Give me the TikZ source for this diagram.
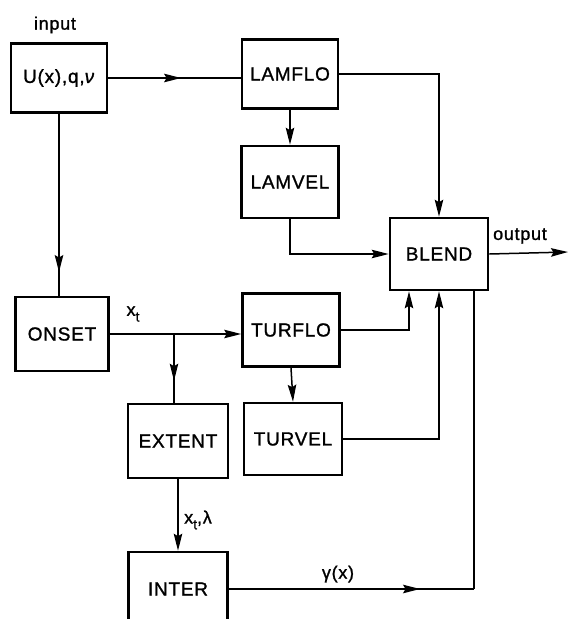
\documentclass[tikz,border=0pt]{standalone}
\usepackage{fontspec}
\setmainfont{Liberation Sans}[LetterSpace=4,FakeBold=1.2]
\usetikzlibrary{arrows.meta,decorations.markings,calc}
\tikzset{
  blk/.style={draw, line width=2.6pt, inner sep=0pt, minimum width=97pt, minimum height=72pt, font=\fontsize{19}{21}\selectfont},
  wire/.style={line width=1.5pt},
  endarr/.style={wire, -{Stealth[length=17pt,width=8.5pt,inset=2.5pt]}},
  midarr/.style={wire, postaction=decorate, decoration={markings, mark=at position #1 with {\arrow{Stealth[length=17pt,width=8.5pt,inset=2.5pt]}}}},
  lbl/.style={font=\fontsize{18}{20}\selectfont, inner sep=0pt}
}
\newcommand{\subt}{\raisebox{-0.6ex}{\fontsize{14}{14}\selectfont t}}
\begin{document}
\begin{tikzpicture}[x=1pt,y=-1pt]
\useasboundingbox (0,0) rectangle (569,619);
\clip (0,0) rectangle (569,619);
% boxes
\node[blk, minimum width=96pt, minimum height=69pt] (inp) at (59,78) {U(x),q,\textit{ν}};
\node[blk, minimum width=96pt, minimum height=69pt] (lamflo) at (290,74) {LAMFLO};
\node[blk] (lamvel) at (290,182) {LAMVEL};
\node[blk, minimum width=98pt] (blend) at (439,254) {BLEND};
\node[blk, minimum width=93pt, minimum height=74pt] (onset) at (62,334) {ONSET};
\node[blk, minimum height=73pt] (turflo) at (291,330) {TURFLO};
\node[blk, minimum width=98pt] (turvel) at (293,439) {TURVEL};
\node[blk, minimum width=100pt, minimum height=74pt] (extent) at (178,441) {EXTENT};
\node[blk, minimum width=99pt, minimum height=74pt] (inter) at (178,589) {INTER};
% labels
\node[lbl] (linput) at (55,25) {input};
\node[lbl] (loutput) at (520,236) {output};
\node[lbl] (lxt) at (133,314) {x\subt};
\node[lbl, anchor=west] (lxtl) at (184,520) {x\subt,λ};
\node[lbl] (lgam) at (338,574) {γ(x)};
% coordinates
\coordinate (br) at (174,334);
\coordinate (outend) at (568,252);
\coordinate (bt1) at ($(blend.south)+(-30,0)$);
\coordinate (bt3) at ($(blend.south)+(35,0)$);
\coordinate (ic) at (474,589);
% connectors
\draw[midarr=0.55] (inp.east) -- (inp.east -| lamflo.west);
\draw[endarr] (lamflo.south) -- (lamvel.north);
\draw[endarr] (lamflo.east) -| (blend.north);
\draw[endarr] (lamvel.south) |- (blend.west);
\draw[endarr] (blend.east) -- (outend);
\draw[midarr=0.87] (inp.south) -- (inp.south |- onset.north);
\draw[endarr] (onset.east) -- (onset.east -| turflo.west);
\draw[midarr=0.68] (br) -- (br |- extent.north);
\draw[endarr] (extent.south) -- (inter.north);
\draw[endarr] (turflo.south) -- (turvel.north);
\draw[endarr] (turflo.east) -| (bt1);
\draw[endarr] (turvel.east) -| (blend.south);
\draw[midarr=0.78] (inter.east) -- (ic);
\draw[wire] (ic) -- (bt3);
\end{tikzpicture}
\end{document}
